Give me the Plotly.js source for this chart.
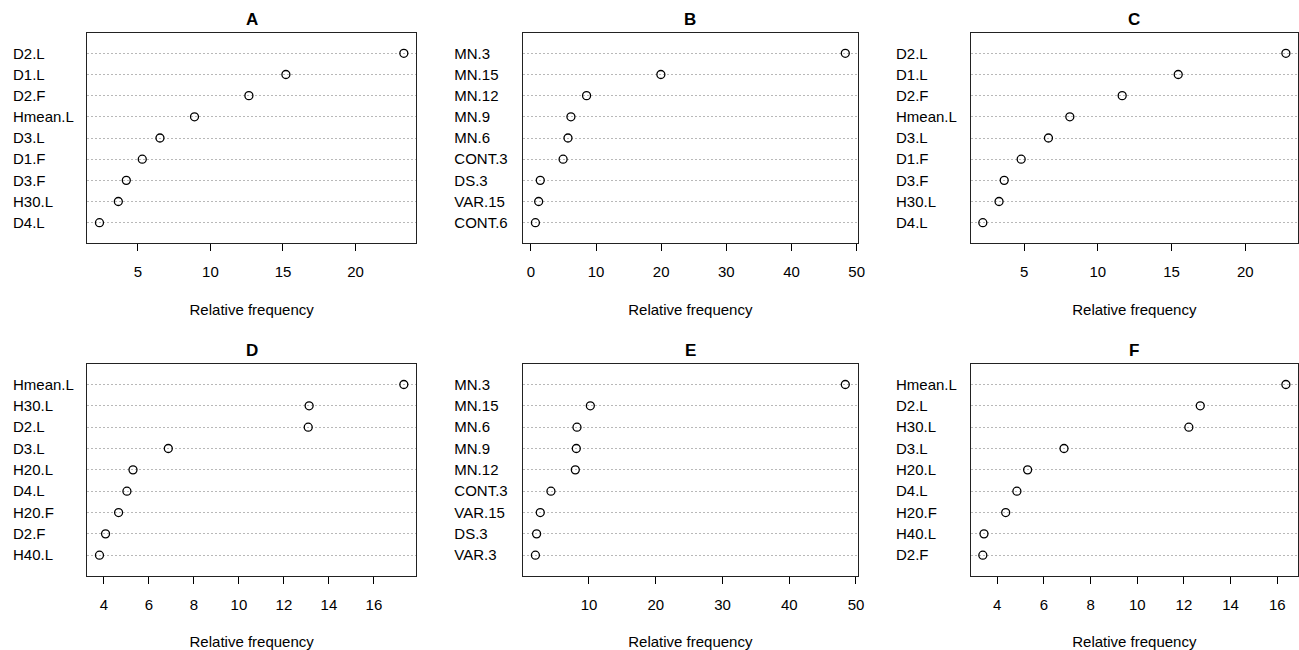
<!DOCTYPE html>
<html><head><meta charset="utf-8">
<script src="https://cdn.plot.ly/plotly-3.0.1.min.js"></script>
<style>html,body{margin:0;padding:0;background:#fff}#chart{width:1299px;height:650px}</style>
</head><body><div id="chart"></div>
<script>
const panelTitles = ['A','B','C','D','E','F'];
const labelsA = ['D2.L','D1.L','D2.F','Hmean.L','D3.L','D1.F','D3.F','H30.L','D4.L'];
const valuesA = [23.33, 15.2, 12.65, 8.9, 6.52, 5.3, 4.2, 3.65, 2.35];
const labelsB = ['MN.3','MN.15','MN.12','MN.9','MN.6','CONT.3','DS.3','VAR.15','CONT.6'];
const valuesB = [48.25, 19.95, 8.55, 6.15, 5.7, 4.95, 1.45, 1.2, 0.7];
const labelsC = ['D2.L','D1.L','D2.F','Hmean.L','D3.L','D1.F','D3.F','H30.L','D4.L'];
const valuesC = [22.75, 15.45, 11.65, 8.1, 6.65, 4.8, 3.65, 3.3, 2.2];
const labelsD = ['Hmean.L','H30.L','D2.L','D3.L','H20.L','D4.L','H20.F','D2.F','H40.L'];
const valuesD = [17.33, 13.12, 13.08, 6.86, 5.29, 5.02, 4.65, 4.07, 3.8];
const labelsE = ['MN.3','MN.15','MN.6','MN.9','MN.12','CONT.3','VAR.15','DS.3','VAR.3'];
const valuesE = [48.4, 10.2, 8.2, 8.1, 7.95, 4.3, 2.7, 2.15, 1.97];
const labelsF = ['Hmean.L','D2.L','H30.L','D3.L','H20.L','D4.L','H20.F','H40.L','D2.F'];
const valuesF = [16.37, 12.7, 12.21, 6.86, 5.3, 4.84, 4.36, 3.43, 3.38];
const xTitle = 'Relative frequency';

const allLabels = [labelsA, labelsB, labelsC, labelsD, labelsE, labelsF];
const allValues = [valuesA, valuesB, valuesC, valuesD, valuesE, valuesF];

const W = 1299, H = 650;
const dticks = [5, 10, 5, 2, 10, 2];
const colPx = [[87.3, 416], [523, 857.7], [970.7, 1298]];
const rowPx = [[33, 243], [364, 575.7]];
const labelPx = [12, 453.3, 895];
const FONT = 'Liberation Sans, Arial, sans-serif';

const data = [];
const layout = {
  width: W, height: H, margin: {l: 0, r: 0, t: 0, b: 0},
  paper_bgcolor: '#fff', plot_bgcolor: '#fff', showlegend: false,
  font: {family: FONT, size: 15, color: '#000'},
  annotations: []
};

for (let p = 0; p < 6; p++) {
  const labs = allLabels[p], vals = allValues[p];
  const n = labs.length;
  const ypos = labs.map((_, i) => n - i);
  const col = p % 3, row = Math.floor(p / 3);
  const xs = p === 0 ? '' : String(p + 1);
  const mn = Math.min(...vals), mx = Math.max(...vals), d = mx - mn;
  const xr = [mn - 0.04 * d, mx + 0.04 * d];
  const yr = [0.04, n + 0.96];
  data.push({
    type: 'scatter', mode: 'markers', x: vals, y: ypos,
    xaxis: 'x' + xs, yaxis: 'y' + xs,
    marker: {symbol: 'circle-open', size: 8, color: '#000', line: {width: 1.3, color: '#000'}},
    hoverinfo: 'x+text', text: labs
  });
  // invisible companion trace so the left-aligned label axis is drawn
  data.push({
    type: 'scatter', mode: 'markers', x: vals, y: ypos,
    xaxis: 'x' + xs, yaxis: 'y' + (p + 7),
    marker: {opacity: 0, size: 1}, hoverinfo: 'skip'
  });
  const xd = [colPx[col][0] / W, colPx[col][1] / W];
  const yd = [1 - rowPx[row][1] / H, 1 - rowPx[row][0] / H];
  layout['xaxis' + xs] = {
    domain: xd, anchor: 'y' + xs, range: xr,
    tick0: 0, dtick: dticks[p], ticks: 'outside', ticklen: 7, tickwidth: 1, tickcolor: '#000',
    showline: true, mirror: true, linecolor: '#222', linewidth: 1.2,
    showgrid: false, zeroline: false, ticklabelstandoff: 8,
    tickfont: {family: FONT, size: 15, color: '#000'},
    title: {text: xTitle, font: {family: FONT, size: 15, color: '#000'}, standoff: 25}
  };
  layout['yaxis' + xs] = {
    domain: yd, anchor: 'x' + xs, range: yr,
    tickvals: ypos, showticklabels: false, ticks: '',
    showline: true, mirror: true, linecolor: '#222', linewidth: 1.2,
    showgrid: true, gridcolor: '#b8b8b8', griddash: '2px,2px', gridwidth: 1, zeroline: false
  };
  layout['yaxis' + (p + 7)] = {
    overlaying: 'y' + xs, anchor: 'free', position: labelPx[col] / W, side: 'right',
    range: yr, tickvals: ypos, ticktext: labs, ticks: '', showline: false, showgrid: false,
    zeroline: false, tickfont: {family: FONT, size: 15, color: '#000'}
  };
  layout.annotations.push({
    text: '<b>' + panelTitles[p] + '</b>', xref: 'paper', yref: 'paper',
    x: (xd[0] + xd[1]) / 2, y: 1 - (rowPx[row][0] - 14) / H, xanchor: 'center', yanchor: 'middle',
    showarrow: false, font: {family: FONT, size: 17, color: '#000'}
  });
}

Plotly.newPlot('chart', data, layout, {staticPlot: true});
</script></body></html>
